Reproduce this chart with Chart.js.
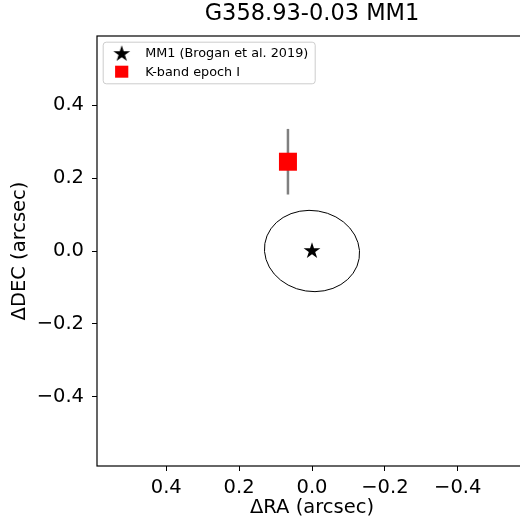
<!DOCTYPE html>
<html lang="en">
<head>
<meta charset="UTF-8">
<style>
    html, body {
        margin: 0;
        padding: 0;
        width: 520px;
        height: 518px;
        overflow: hidden;
        background: #fff;
    }
    #plot {
        position: absolute;
        left: 0;
        top: 0;
    }
</style>
</head>
<body>
<canvas id="plot" width="624" height="518"></canvas>

<script src="https://cdn.jsdelivr.net/npm/chart.js"></script>
<script>
    // MM1 position (Brogan et al. 2019)
    const mm1Ra = [0.0];
    const mm1Dec = [0.0];

    // K-band epoch I
    const kRa = [0.066];
    const kDec = [0.245];
    const kDecErr = [0.09];

    // beam / uncertainty ellipse around MM1 (arcsec, angle in degrees on screen)
    const ellipseCenter = [0.0, 0.0];
    const ellipseAxes = [0.131, 0.111];
    const ellipseAngle = 9;

    const raTicks = [0.4, 0.2, 0.0, -0.2, -0.4];
    const decTicks = [-0.4, -0.2, 0.0, 0.2, 0.4];
    const axisLimit = 0.59;

    Chart.defaults.font.family = "'DejaVu Sans', sans-serif";
    Chart.defaults.color = '#000';

    function makeStar(R, color) {
        const c = document.createElement('canvas');
        const s = 2 * Math.ceil(R + 1);
        c.width = s;
        c.height = s;
        const g = c.getContext('2d');
        g.fillStyle = color;
        g.beginPath();
        for (let i = 0; i < 10; i++) {
            const r = i % 2 ? R * 0.381966 : R;
            const t = -Math.PI / 2 + i * Math.PI / 5;
            g.lineTo(s / 2 + r * Math.cos(t), s / 2 + r * Math.sin(t));
        }
        g.closePath();
        g.fill();
        return c;
    }
    const starImg = makeStar(8.8, '#000');

    const fmt = v => (v < -1e-9 ? '\u2212' : '') + Math.abs(v).toFixed(1);

    const beamEllipse = {
        id: 'beamEllipse',
        beforeDatasetsDraw(chart) {
            const { ctx, scales: { x, y } } = chart;
            const cx = x.getPixelForValue(ellipseCenter[0]);
            const cy = y.getPixelForValue(ellipseCenter[1]);
            const rx = Math.abs(x.getPixelForValue(ellipseCenter[0] + ellipseAxes[0]) - cx);
            const ry = Math.abs(y.getPixelForValue(ellipseCenter[1] + ellipseAxes[1]) - cy);
            ctx.save();
            ctx.strokeStyle = '#000';
            ctx.lineWidth = 1;
            ctx.beginPath();
            ctx.ellipse(cx, cy, rx, ry, ellipseAngle * Math.PI / 180, 0, 2 * Math.PI);
            ctx.stroke();
            ctx.restore();
        }
    };

    // axes frame + legend inside the plot (matplotlib style)
    const frameAndLegend = {
        id: 'frameAndLegend',
        afterDatasetsDraw(chart) {
            const { ctx, chartArea: a } = chart;
            ctx.save();
            ctx.strokeStyle = '#000';
            ctx.lineWidth = 1.2;
            ctx.strokeRect(a.left, a.top, a.right - a.left, a.bottom - a.top);

            const items = chart.data.datasets.filter(d => d.label);
            const bx = a.left + 5.7, by = a.top + 5.7, bw = 212, bh = 41.6;
            ctx.fillStyle = 'rgba(255,255,255,0.8)';
            ctx.strokeStyle = '#cccccc';
            ctx.lineWidth = 1;
            ctx.beginPath();
            ctx.roundRect(bx + 0.5, by + 0.5, bw, bh, 3);
            ctx.fill();
            ctx.stroke();

            ctx.font = "12.8px 'DejaVu Sans'";
            ctx.textBaseline = 'middle';
            ctx.fillStyle = '#000';
            items.forEach((d, i) => {
                const my = by + 11.8 + i * 18.2;
                const mx = bx + 19;
                if (d.pointStyle instanceof HTMLCanvasElement) {
                    const img = d.pointStyle;
                    ctx.drawImage(img, mx - img.width / 2, my - img.height / 2 + 0.5);
                } else {
                    ctx.fillStyle = d.backgroundColor;
                    ctx.fillRect(mx - 6.6, my - 6, 13.2, 12);
                }
                ctx.fillStyle = '#000';
                ctx.fillText(d.label, bx + 42.5, my + 0.5);
            });
            ctx.restore();
        }
    };

    const tickFont = { size: 19.5 };

    new Chart(document.getElementById('plot'), {
        type: 'scatter',
        data: {
            datasets: [
                {
                    label: 'MM1 (Brogan et al. 2019)',
                    data: mm1Ra.map((v, i) => ({ x: v, y: mm1Dec[i] })),
                    pointStyle: starImg,
                    pointRadius: 9
                },
                {
                    label: 'K-band epoch I',
                    data: kRa.map((v, i) => ({ x: v, y: kDec[i] })),
                    pointStyle: 'rect',
                    pointRadius: 12.73,
                    backgroundColor: '#ff0000',
                    borderColor: '#ff0000',
                    borderWidth: 0
                },
                {
                    type: 'line',
                    data: [
                        { x: kRa[0], y: kDec[0] - kDecErr[0] },
                        { x: kRa[0], y: kDec[0] + kDecErr[0] }
                    ],
                    borderColor: '#808080',
                    borderWidth: 2.5,
                    pointRadius: 0,
                    fill: false
                }
            ]
        },
        options: {
            responsive: false,
            animation: false,
            devicePixelRatio: 1,
            events: [],
            layout: { padding: 0 },
            scales: {
                x: {
                    type: 'linear',
                    reverse: true,
                    min: -axisLimit,
                    max: axisLimit,
                    afterBuildTicks: s => { s.ticks = raTicks.map(v => ({ value: v })); },
                    afterFit: s => { s.height = 52; },
                    ticks: { font: tickFont, padding: 5, callback: fmt, maxRotation: 0 },
                    grid: { drawOnChartArea: false, drawTicks: true, tickLength: 5, color: '#000' },
                    border: { display: false },
                    title: {
                        display: true,
                        text: '\u0394RA (arcsec)',
                        font: { size: 19.5, lineHeight: 1.0 },
                        padding: { top: 0, bottom: 0 }
                    }
                },
                y: {
                    type: 'linear',
                    min: -axisLimit,
                    max: axisLimit,
                    afterBuildTicks: s => { s.ticks = decTicks.map(v => ({ value: v })); },
                    afterFit: s => { s.width = 97; },
                    ticks: { font: tickFont, padding: 8, callback: fmt },
                    grid: { drawOnChartArea: false, drawTicks: true, tickLength: 5, color: '#000' },
                    border: { display: false },
                    title: {
                        display: true,
                        text: '\u0394DEC (arcsec)',
                        font: { size: 19.5, lineHeight: 1.2 },
                        padding: { top: 8.6, bottom: 0 }
                    }
                },
                // empty right-hand box so the plot keeps its matplotlib position
                yPad: {
                    type: 'linear',
                    position: 'right',
                    afterFit: s => { s.width = 97; },
                    ticks: { display: false },
                    grid: { display: false },
                    border: { display: false }
                }
            },
            plugins: {
                legend: { display: false },
                tooltip: { enabled: false },
                title: {
                    display: true,
                    text: 'G358.93-0.03 MM1',
                    font: { size: 22.5, weight: 'normal', lineHeight: 1.0 },
                    padding: { top: 2.5, bottom: 11 },
                    color: '#000'
                }
            }
        },
        plugins: [beamEllipse, frameAndLegend]
    });
</script>
</body>
</html>
